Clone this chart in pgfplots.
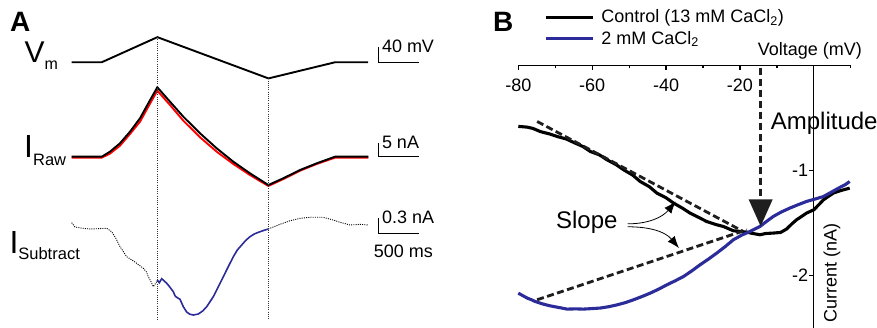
\documentclass[border=0pt]{standalone}
\usepackage{fontspec}
\setmainfont{Liberation Sans}
\usepackage{pgfplots}
\usepackage{pgfplotstable}
\pgfplotsset{compat=1.18}
\usetikzlibrary{arrows.meta}

\definecolor{cablue}{RGB}{43,43,153}
\definecolor{fitgray}{RGB}{30,30,30}
\newcommand{\fsz}[2]{\fontsize{#1pt}{#2pt}\selectfont}

% ---------- Panel A: ramp protocol and currents (time in ms) ----------
\pgfplotstableread{
t v
0 -60
365 -60
1045 7
2400 -103
3210 -60
3615 -60
}\vmdata

\pgfplotstableread{
t i
0 0
366 0
467 1.79
589 4.79
711 8.93
833 13.71
934 19.07
1044 24.79
1199 19.64
1361 14.29
1565 8.36
1768 3.0
1971 -1.79
2174 -5.93
2398 -10.11
2580 -7.71
2784 -4.75
2988 -2.36
3211 0
3617 0
}\rawctl

\pgfplotstableread{
t i
0 -0.35
366 -0.35
467 1.1
589 3.93
711 8.11
833 12.5
934 17.86
1044 23.57
1199 18.46
1361 12.86
1565 6.93
1768 1.79
1971 -2.61
2174 -6.54
2398 -10.46
2580 -8.0
2784 -5.0
2988 -2.6
3211 -0.35
3617 -0.35
}\rawlow

\pgfplotstableread{
t i
0 0.044
40 -0.038
120 -0.06
223 -0.077
330 -0.07
427 -0.064
488 -0.129
540 -0.26
589 -0.417
671 -0.610
760 -0.70
873 -0.833
910 -0.90
934 -0.994
970 -1.10
995 -1.186
1037 -1.090
1044 -1.058
}\subpre

\pgfplotstableread{
t i
1044 -1.058
1068 -1.110
1098 -1.033
1159 -1.121
1200 -1.20
1239 -1.283
1260 -1.36
1280 -1.390
1321 -1.429
1361 -1.571
1402 -1.673
1440 -1.715
1483 -1.731
1544 -1.712
1600 -1.650
1646 -1.571
1727 -1.379
1790 -1.180
1849 -0.994
1910 -0.800
1971 -0.610
2020 -0.480
2073 -0.385
2120 -0.300
2174 -0.225
2230 -0.170
2296 -0.129
2350 -0.100
2398 -0.077
}\subramp

\pgfplotstableread{
t i
2398 -0.077
2540 0.013
2660 0.080
2784 0.129
2920 0.150
3068 0.148
3180 0.100
3272 0.052
3394 0.0
3516 0.013
3617 0.0
}\subpost

% ---------- Panel B: I-V relations ----------
\pgfplotstableread{
v i
-80 -0.58
-77.6 -0.587
-76 -0.60
-74 -0.63
-71.5 -0.652
-69.5 -0.676
-67 -0.700
-65 -0.733
-62.5 -0.772
-60.5 -0.819
-58 -0.852
-56 -0.898
-53.5 -0.945
-51.5 -0.993
-49 -1.045
-47 -1.105
-44.5 -1.155
-42.5 -1.215
-40 -1.260
-38 -1.31
-35.5 -1.360
-33.5 -1.406
-31 -1.450
-29 -1.486
-26.5 -1.515
-24.5 -1.533
-21.8 -1.574
-20 -1.580
-18.2 -1.587
-16.5 -1.600
-14.6 -1.612
-13 -1.600
-11 -1.596
-9 -1.590
-7.4 -1.558
-6 -1.510
-4.7 -1.47
-3 -1.430
-2 -1.406
0 -1.374
1.5 -1.320
2.6 -1.279
4 -1.245
5.3 -1.215
6.5 -1.200
8 -1.184
9.7 -1.168
}\ivctl

\pgfplotstableread{
v i
-80 -2.168
-77.6 -2.215
-76.5 -2.230
-75.4 -2.248
-73.5 -2.270
-71.4 -2.289
-69 -2.305
-66.8 -2.32
-64.5 -2.318
-62.4 -2.32
-60 -2.315
-57.8 -2.31
-55.5 -2.297
-53.3 -2.28
-51 -2.258
-48.8 -2.231
-46.5 -2.200
-44.3 -2.168
-42 -2.130
-39.8 -2.089
-37.5 -2.050
-35.3 -2.01
-33 -1.955
-30.8 -1.898
-28.5 -1.843
-26.3 -1.787
-24 -1.725
-21.8 -1.66
-19.5 -1.615
-17.3 -1.581
-14.6 -1.533
-12.8 -1.485
-11 -1.438
-8.8 -1.395
-6.5 -1.358
-4.2 -1.325
-2 -1.295
0.3 -1.272
2.6 -1.248
4.8 -1.205
7 -1.162
8.5 -1.135
9.7 -1.105
}\ivlow

\begin{document}
\begin{tikzpicture}[x=1pt,y=1pt]
\useasboundingbox (0,0) rectangle (877,328);

% ===== Panel A =====
\pgfplotsset{
  panelA/.style={
    anchor=south west, scale only axis, hide axis, clip=false,
    width=347.68pt, xmin=0, xmax=4240,
  },
}

% membrane potential
\begin{axis}[panelA, at={(71.7pt,246.95pt)}, height=45pt, ymin=-110, ymax=10]
  \addplot[black, line width=1.9pt, line join=miter] table[x=t, y=v] {\vmdata};
  \coordinate (d1top) at (axis cs:1044,7);
  \coordinate (d2top) at (axis cs:2398,-103);
  \draw[line width=1.2pt] (axis cs:3739,-20) -- (axis cs:3739,-60) -- (axis cs:4239,-60);
  \node[anchor=base west, inner sep=0pt, font=\fsz{18}{18}] at ([xshift=3.5pt,yshift=9.4pt]axis cs:3739,-60) {40 mV};
\end{axis}

% raw currents
\begin{axis}[panelA, at={(71.7pt,137.7pt)}, height=109.2pt, ymin=-12, ymax=27]
  \addplot[red, line width=1.9pt] table[x=t, y=i] {\rawlow};
  \addplot[black, line width=1.9pt] table[x=t, y=i] {\rawctl};
  \draw[line width=1.2pt] (axis cs:3739,5) -- (axis cs:3739,0) -- (axis cs:4239,0);
  \node[anchor=base west, inner sep=0pt, font=\fsz{18}{18}] at ([xshift=3.5pt,yshift=8.4pt]axis cs:3739,0) {5 nA};
\end{axis}

% subtracted current
\begin{axis}[panelA, at={(71.7pt,4.2pt)}, height=114.4pt, ymin=-1.9, ymax=0.3]
  \addplot[black, line width=0.9pt, dash pattern=on 1pt off 1.2pt] table[x=t, y=i] {\subpre};
  \addplot[black, line width=0.9pt, dash pattern=on 1pt off 1.2pt] table[x=t, y=i] {\subpost};
  \addplot[cablue, line width=1.6pt] table[x=t, y=i] {\subramp};
  \coordinate (d1bot) at (axis cs:1044,-1.83);
  \coordinate (d2bot) at (axis cs:2398,-1.83);
  \draw[line width=1.2pt] (axis cs:3739,0.14) -- (axis cs:3739,-0.16) -- (axis cs:4239,-0.16);
  \node[anchor=base west, inner sep=0pt, font=\fsz{18}{18}] at ([xshift=3.5pt,yshift=10pt]axis cs:3739,-0.16) {0.3 nA};
  \node[anchor=base, inner sep=0pt, font=\fsz{18}{18}] at ([yshift=-24pt]axis cs:4044,-0.16) {500 ms};
\end{axis}

% markers of ramp turning points
\draw[black!80, line width=0.8pt, dash pattern=on 1pt off 1.2pt] (d1top) -- (d1bot);
\draw[black!80, line width=0.8pt, dash pattern=on 1pt off 1.2pt] (d2top) -- (d2bot);

% trace names
\node[anchor=base west, inner sep=0pt] at (24.5,265) {\fsz{30}{30}V\raisebox{-7pt}{\fsz{16}{16}m}};
\node[anchor=base west, inner sep=0pt] at (24,170) {\fsz{32}{32}I\raisebox{-7.7pt}{\fsz{16.5}{16.5}Raw}};
\node[anchor=base west, inner sep=0pt] at (9.3,74.7) {\fsz{32}{32}I\raisebox{-6.7pt}{\fsz{16.5}{16.5}Subtract}};

% panel letters
\node[anchor=base west, inner sep=0pt, font=\fsz{28}{28}\bfseries] at (10,296) {A};
\node[anchor=base west, inner sep=0pt, font=\fsz{28}{28}\bfseries] at (493,296) {B};

% ===== Panel B =====
\begin{axis}[
  at={(518.3pt,0pt)}, anchor=south west, scale only axis,
  width=332.5pt, height=262.5pt,
  xmin=-80, xmax=10, ymin=-2.5, ymax=0,
  axis x line=middle, axis y line=middle,
  axis line style={-, line width=1.2pt},
  xtick={-80,-60,-40,-20}, minor xtick={-70,-50,-30,-10,10},
  ytick={-1,-2},
  tick align=outside,
  major tick length=4.5pt, minor tick length=3pt,
  every tick/.style={black, line width=1.2pt},
  /pgf/number format/assume math mode=true,
  tick label style={font=\fsz{18}{18}},
  xticklabel style={yshift=-5pt},
  yticklabel style={inner sep=1pt},
  clip=false,
  xlabel={Voltage (mV)},
  xlabel style={at={(axis description cs:0.877,1)}, anchor=center, yshift=15pt, font=\fsz{18}{18}},
  ylabel={Current (nA)},
  ylabel style={at={(axis description cs:0.943,0.21)}, anchor=center, rotate=90, font=\fsz{18}{18}},
  legend image code/.code={\draw[#1] (0pt,0pt) -- (47pt,0pt);},
  legend cell align=left,
  legend style={at={(axis description cs:0.0773,1.22)}, anchor=north west,
    draw=none, fill=none, inner sep=0pt, font=\fsz{18}{21}, row sep=2.5pt,
    /tikz/every odd column/.append style={column sep=5pt}},
]
  \addplot[black, line width=3.1pt] table[x=v, y=i] {\ivctl};
  \addlegendentry{Control (13 mM CaCl\textsubscript{2})}
  \addplot[cablue, line width=3.1pt] table[x=v, y=i] {\ivlow};
  \addlegendentry{2 mM CaCl\textsubscript{2}}

  % linear slope estimates
  \addplot[fitgray, line width=2.8pt, dash pattern=on 7pt off 3.5pt, forget plot]
    coordinates {(-74.9,-0.533) (-19.1,-1.581)};
  \addplot[fitgray, line width=2.8pt, dash pattern=on 7pt off 3.5pt, forget plot]
    coordinates {(-74.9,-2.231) (-18.2,-1.565)};

  % amplitude marker
  \draw[fitgray, line width=3.5pt, dash pattern=on 7.5pt off 3.5pt,
        -{Triangle[length=27pt,width=23pt]}]
    (axis cs:-14.4,-0.02) -- (axis cs:-14.4,-1.533);
  \node[anchor=west, inner sep=0pt, font=\fsz{24}{24}] at (axis cs:-11.7,-0.555) {Amplitude};

  % slope labels
  \node[anchor=east, inner sep=0pt, font=\fsz{24}{24}] (slp) at (axis cs:-53.1,-1.495) {Slope};
  \draw[line width=0.8pt, -{Latex[length=12pt,width=9pt]}]
    (axis cs:-50.4,-1.508) to[out=0, in=230] (axis cs:-37.4,-1.295);
  \draw[line width=0.8pt, -{Latex[length=12pt,width=9pt]}]
    (axis cs:-50.4,-1.536) to[out=0, in=130] (axis cs:-36.5,-1.739);
\end{axis}
\end{tikzpicture}
\end{document}
